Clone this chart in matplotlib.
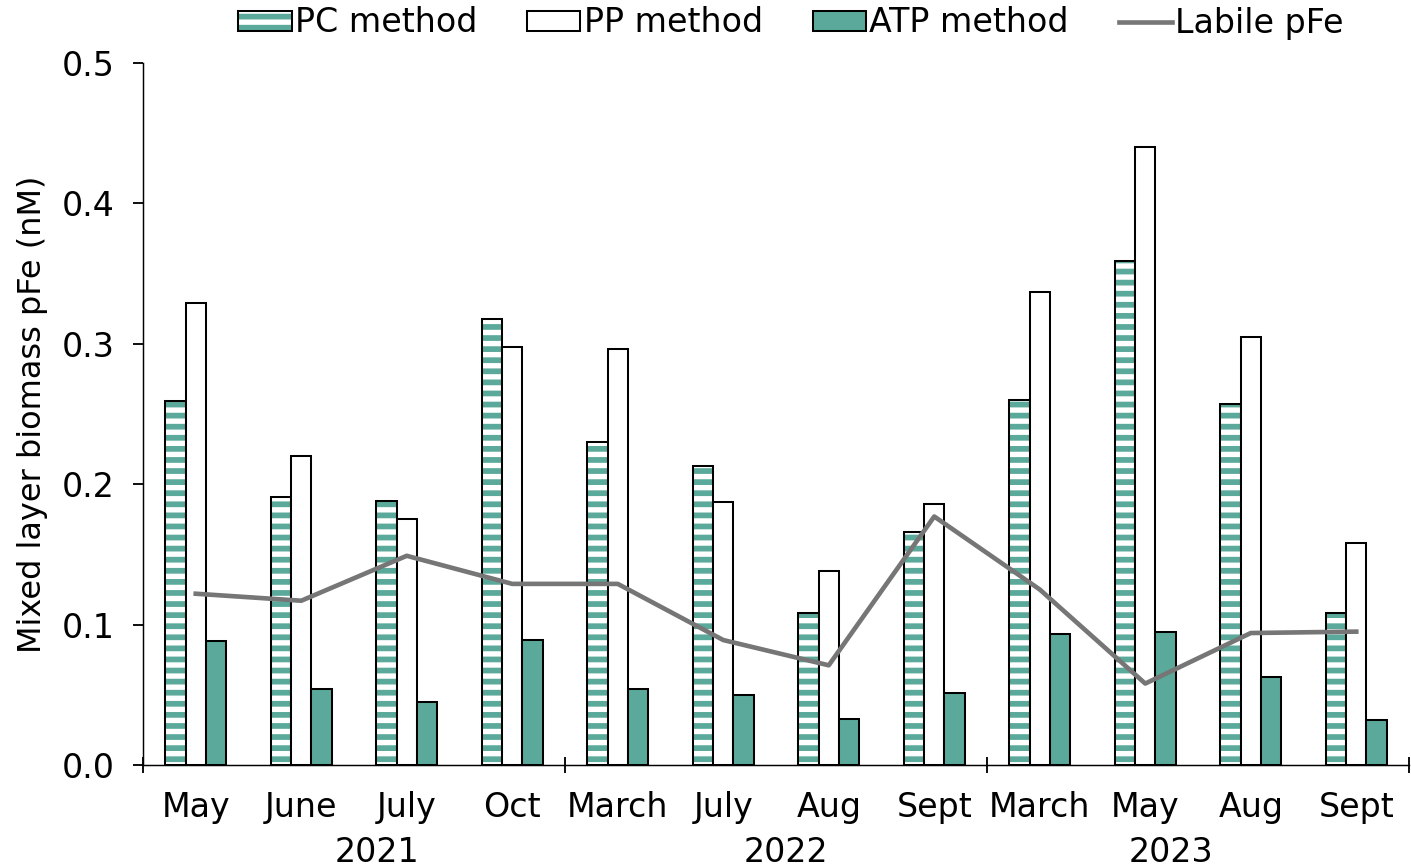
import numpy as np
import matplotlib
matplotlib.use('Agg')
import matplotlib.pyplot as plt

# --- mixed layer biomass pFe by method, with labile pFe overlaid

months = ['May', 'June', 'July', 'Oct', 'March', 'July', 'Aug', 'Sept',
          'March', 'May', 'Aug', 'Sept']
years = ['2021', '2022', '2023']
year_pos = [1.72, 5.59, 9.24]      # where the year labels sit (category units)
group_edges = [-0.5, 3.5, 7.5, 11.5]

pc = [0.259, 0.191, 0.188, 0.318, 0.230, 0.213, 0.108, 0.166,
      0.260, 0.359, 0.257, 0.108]
pp = [0.329, 0.220, 0.175, 0.298, 0.296, 0.187, 0.138, 0.186,
      0.337, 0.440, 0.305, 0.158]
atp = [0.088, 0.054, 0.045, 0.089, 0.054, 0.050, 0.033, 0.051,
       0.093, 0.095, 0.063, 0.032]
labile = [0.122, 0.117, 0.149, 0.129, 0.129, 0.089, 0.071, 0.177,
          0.125, 0.058, 0.094, 0.095]

teal = '#5aa99a'
grey = '#767676'

dpi = 133
plt.rcParams['font.family'] = 'DejaVu Sans'
plt.rcParams['font.size'] = 18
plt.rcParams['hatch.linewidth'] = 3.1

fig = plt.figure(figsize=(1411 / dpi, 867 / dpi), dpi=dpi)
ax = fig.add_axes((143 / 1411, 1 - 765 / 867, 1266 / 1411, 702 / 867))

x = np.arange(len(months))
w = 0.194

# PC bars: teal stripes on white, then a black outline on top
p1 = ax.bar(x - w, pc, w, color='white', edgecolor=teal, hatch='--', linewidth=0, zorder=2)
p2 = ax.bar(x - w, pc, w, fill=False, edgecolor='black', linewidth=1.1, zorder=3)
p3 = ax.bar(x, pp, w, color='white', edgecolor='black', linewidth=1.1, zorder=3)
p4 = ax.bar(x + w, atp, w, color=teal, edgecolor='black', linewidth=1.1, zorder=3)
ln, = ax.plot(x, labile, color=grey, lw=2.5, zorder=4)

ax.set_xlim(-0.5, 11.5)
ax.set_ylim(0, 0.5)
ax.set_yticks(np.arange(0, 0.51, 0.1))
ax.set_yticklabels([f'{v:.1f}' for v in np.arange(0, 0.51, 0.1)])
ax.tick_params(axis='y', direction='out', length=5.5, width=1, pad=10)

ax.set_xticks(x)
ax.set_xticklabels(months)
ax.tick_params(axis='x', which='major', length=0, pad=14)
ax.set_xticks(group_edges, minor=True)
ax.tick_params(axis='x', which='minor', direction='inout', length=9, width=1)

# year labels below the month labels
for yr, xp in zip(years, year_pos):
    ax.text(xp, -0.124, yr, ha='center', va='center',
            transform=ax.get_xaxis_transform())

for s in ['top', 'right']:
    ax.spines[s].set_visible(False)

ax.set_ylabel('Mixed layer biomass pFe (nM)', fontsize=17.3)
ax.yaxis.set_label_coords(-0.075, 0.5)

handles = [(p1[0], p2[0]), p3[0], p4[0], ln]
labels = ['PC method', 'PP method', 'ATP method', 'Labile pFe']
fig.legend(handles, labels, loc='center', bbox_to_anchor=(791 / 1411, 1 - 23 / 867),
           ncol=4, frameon=False, handlelength=1.6, handleheight=0.55,
           handletextpad=0.1, columnspacing=1.5, borderpad=0)

fig.savefig('out.png', dpi=dpi)
